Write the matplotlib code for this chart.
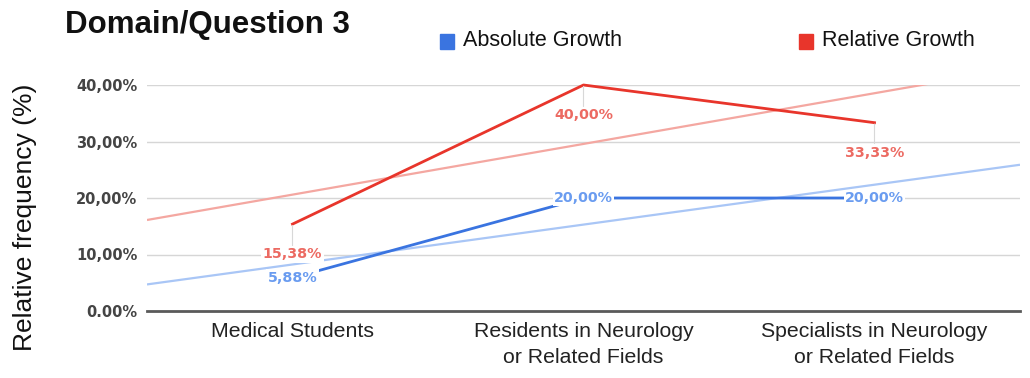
import matplotlib
matplotlib.use("Agg")
import matplotlib.pyplot as plt
import matplotlib.patches as mpatches
import numpy as np

# Data
categories = ["Medical Students",
              "Residents in Neurology\nor Related Fields",
              "Specialists in Neurology\nor Related Fields"]
absolute_growth = [5.88, 20.00, 20.00]
relative_growth = [15.38, 40.00, 33.33]
y_ticks = [0, 10, 20, 30, 40]
y_tick_labels = ["0.00%", "10,00%", "20,00%", "30,00%", "40,00%"]
series_names = ["Absolute Growth", "Relative Growth"]

BLUE = "#3a74e0"
BLUE_LABEL = "#6a9cf0"
BLUE_TREND = "#a9c6f6"
RED = "#e8352b"
RED_LABEL = "#ec6a62"
RED_TREND = "#f4a7a1"

W, H, DPI = 1030, 378, 100
fig = plt.figure(figsize=(W / DPI, H / DPI), dpi=DPI)
ax = fig.add_axes([147 / W, 1 - 311 / H, (1020 - 147) / W, (311 - 85) / H])

x = np.arange(len(categories))
ax.set_xlim(-0.5, len(categories) - 0.5)
ax.set_ylim(0, 40)

# Linear trendlines across the full plot width
xs = np.array([-0.5, len(categories) - 0.5])
for vals, col in [(absolute_growth, BLUE_TREND), (relative_growth, RED_TREND)]:
    k, b = np.polyfit(x, vals, 1)
    ax.plot(xs, k * xs + b, color=col, lw=1.6, zorder=2, solid_capstyle="butt")

# Series lines
ax.plot(x, absolute_growth, color=BLUE, lw=2.0, zorder=3, clip_on=False)
ax.plot(x, relative_growth, color=RED, lw=2.0, zorder=3, clip_on=False)

lab_font = dict(family="DejaVu Sans", fontweight="bold", fontsize=10.3)

# Value labels: blue centred on the point, red below it with a leader line
for xi, v in zip(x, absolute_growth):
    ax.annotate(f"{v:.2f}%".replace(".", ","), (xi, v), xytext=(0, 0),
                textcoords="offset pixels", ha="center", va="center",
                color=BLUE_LABEL, zorder=6, annotation_clip=False,
                bbox=dict(boxstyle="square,pad=0.1", fc="white", ec="none"),
                **lab_font)
for xi, v in zip(x, relative_growth):
    ax.annotate(f"{v:.2f}%".replace(".", ","), (xi, v), xytext=(0, -30),
                textcoords="offset pixels", ha="center", va="center",
                color=RED_LABEL, zorder=5, annotation_clip=False,
                bbox=dict(boxstyle="square,pad=0.1", fc="white", ec="none"),
                arrowprops=dict(arrowstyle="-", color="#d8d8d8", lw=0.8,
                                shrinkA=0, shrinkB=1),
                **lab_font)

# Grid and axes styling
for yt in y_ticks[1:]:
    ax.axhline(yt, color="#d6d6d6", lw=1.0, zorder=1)
ax.axhline(0, color="#5a5a5a", lw=2.0, zorder=4, clip_on=False)
for s in ax.spines.values():
    s.set_visible(False)

ax.set_yticks(y_ticks)
ax.set_yticklabels(y_tick_labels, family="DejaVu Sans", fontweight="bold",
                   fontsize=10.5, color="#444444")
ax.set_xticks(x)
ax.set_xticklabels(categories, family="Liberation Sans", fontsize=15.3,
                   color="#222222", linespacing=1.45)
ax.tick_params(axis="both", length=0)
ax.tick_params(axis="y", pad=7)
ax.tick_params(axis="x", pad=8)

# Axis title
fig.text(25 / W, 1 - 217 / H, "Relative frequency (%)", family="Liberation Sans",
         fontsize=19, color="#111111", rotation=90, ha="center", va="center")

# Title
fig.text(65 / W, 1 - 25 / H, "Domain/Question 3", family="Liberation Sans",
         fontweight="bold", fontsize=22.5, color="#111111", va="center",
         ha="left")

# Legend
for x0, col, name in [(440, BLUE, series_names[0]), (799, RED, series_names[1])]:
    fig.patches.append(mpatches.Rectangle((x0 / W, 1 - 49 / H), 14 / W, 15 / H,
                                          transform=fig.transFigure,
                                          color=col, zorder=5))
    fig.text((x0 + 23) / W, 1 - 41 / H, name, family="Liberation Sans",
             fontsize=15.5, color="#111111", va="center", ha="left")

fig.savefig("out.png", dpi=DPI, facecolor="white")
